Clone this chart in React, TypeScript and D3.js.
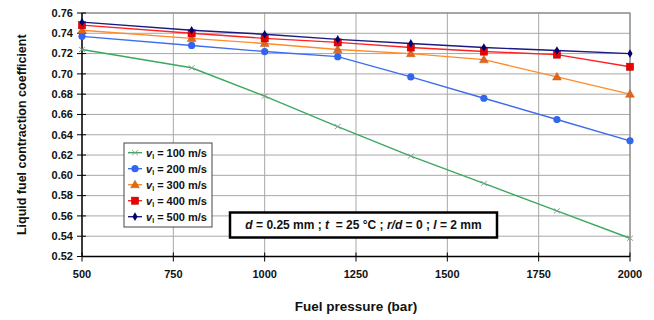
import React from "react";
import * as d3 from "d3";

const pressures = [500, 800, 1000, 1200, 1400, 1600, 1800, 2000];
const v100 = [0.724, 0.706, 0.678, 0.648, 0.619, 0.592, 0.565, 0.538];
const v200 = [0.737, 0.728, 0.722, 0.717, 0.697, 0.676, 0.655, 0.634];
const v300 = [0.743, 0.735, 0.730, 0.724, 0.720, 0.714, 0.697, 0.680];
const v400 = [0.748, 0.740, 0.735, 0.731, 0.726, 0.722, 0.719, 0.707];
const v500 = [0.751, 0.743, 0.739, 0.734, 0.730, 0.726, 0.723, 0.720];
const seriesLabels = ["100", "200", "300", "400", "500"];
const xTicks = [500, 750, 1000, 1250, 1500, 1750, 2000];
const yTicks = [0.52, 0.54, 0.56, 0.58, 0.6, 0.62, 0.64, 0.66, 0.68, 0.7, 0.72, 0.74, 0.76];

const W = 654;
const H = 320;
const L = 82, R = 630, T = 13, B = 256.5;
const FONT = "'Liberation Sans', Arial, sans-serif";

const series = [
  { key: "100", values: v100, line: "#3aa860", marker: "x", mcolor: "#8a9a90" },
  { key: "200", values: v200, line: "#3d6cf0", marker: "circle", mcolor: "#3366ee" },
  { key: "300", values: v300, line: "#ff8c2a", marker: "triangle", mcolor: "#e0661a" },
  { key: "400", values: v400, line: "#ff2020", marker: "square", mcolor: "#ee0000" },
  { key: "500", values: v500, line: "#1a1a80", marker: "diamond", mcolor: "#000070" },
];

function Marker({ type, x, y, color }: { type: string; x: number; y: number; color: string }) {
  if (type === "circle") return <circle cx={x} cy={y} r={3.6} fill={color} />;
  if (type === "square") return <rect x={x - 3.6} y={y - 3.6} width={7.2} height={7.2} fill={color} stroke="#aa0000" strokeWidth={0.5} />;
  if (type === "triangle") {
    const p = d3.symbol(d3.symbolTriangle, 34)();
    return <path d={p || ""} transform={`translate(${x},${y + 0.6})`} fill={color} stroke="#b05010" strokeWidth={0.4} />;
  }
  if (type === "diamond") {
    const p = d3.symbol(d3.symbolDiamond, 22)();
    return <path d={p || ""} transform={`translate(${x},${y})`} fill={color} />;
  }
  return (
    <g stroke={color} strokeWidth={0.9}>
      <line x1={x - 3} y1={y - 2.5} x2={x + 3} y2={y + 2.5} />
      <line x1={x - 3} y1={y + 2.5} x2={x + 3} y2={y - 2.5} />
    </g>
  );
}

export default function App() {
  const x = d3.scaleLinear().domain([500, 2000]).range([L, R]);
  const y = d3.scaleLinear().domain([0.52, 0.76]).range([B, T]);
  const line = d3
    .line<number>()
    .x((_, i) => x(pressures[i]))
    .y((d) => y(d));

  return (
    <svg width={W} height={H} style={{ position: "absolute", left: 0, top: 0, background: "#fff" }} fontFamily={FONT}>
      {yTicks.map((t) => (
        <line key={"gy" + t} x1={L} x2={R} y1={y(t)} y2={y(t)} stroke="#a8a8a8" strokeWidth={1} />
      ))}
      {xTicks.map((t) => (
        <line key={"gx" + t} x1={x(t)} x2={x(t)} y1={T} y2={B} stroke="#a8a8a8" strokeWidth={1} />
      ))}
      <rect x={L} y={T} width={R - L} height={B - T} fill="none" stroke="#7a7a7a" strokeWidth={1} />
      <line x1={L} x2={L} y1={T} y2={B} stroke="#000" strokeWidth={1.3} />
      <line x1={L} x2={R} y1={B} y2={B} stroke="#000" strokeWidth={1.3} />
      {yTicks.map((t) => (
        <g key={"ty" + t}>
          <line x1={L - 5} x2={L + 4} y1={y(t)} y2={y(t)} stroke="#000" strokeWidth={1} />
          <text x={73} y={y(t)} dy="0.35em" textAnchor="end" fontSize={11} fontWeight="bold" fill="#111">
            {d3.format(".2f")(t)}
          </text>
        </g>
      ))}
      {xTicks.map((t) => (
        <g key={"tx" + t}>
          <line x1={x(t)} x2={x(t)} y1={B - 4} y2={B + 5} stroke="#000" strokeWidth={1} />
          <text x={x(t)} y={278} textAnchor="middle" fontSize={11} fontWeight="bold" fill="#111">
            {t}
          </text>
        </g>
      ))}
      {series.map((s) => (
        <g key={s.key}>
          <path d={line(s.values) || ""} fill="none" stroke={s.line} strokeWidth={1.4} />
          {s.values.map((v, i) => (
            <Marker key={i} type={s.marker} x={x(pressures[i])} y={y(v)} color={s.mcolor} />
          ))}
        </g>
      ))}
      <rect x={124} y={143} width={88} height={84} fill="#fff" stroke="#444" strokeWidth={1} />
      {series.map((s, i) => {
        const cy = 152.7 + i * 16;
        return (
          <g key={"lg" + s.key}>
            <line x1={128} x2={142} y1={cy} y2={cy} stroke={s.line} strokeWidth={1.4} />
            <Marker type={s.marker} x={135} y={cy} color={s.mcolor} />
            <text x={146} y={cy} dy="0.35em" fontSize={11} fontWeight="bold" fill="#111">
              <tspan fontStyle="italic">v</tspan>
              <tspan fontSize={7} dy={2.5}>l</tspan>
              <tspan dy={-2.5}>{` = ${seriesLabels[i]} m/s`}</tspan>
            </text>
          </g>
        );
      })}
      <rect x={230} y={212.5} width={267} height={25} fill="#fff" stroke="#000" strokeWidth={2.5} />
      <text x={363.5} y={225} dy="0.35em" textAnchor="middle" fontSize={12} fontWeight="bold" fill="#111" style={{ whiteSpace: "pre" }}>
        <tspan fontStyle="italic">d</tspan>
        <tspan>{" = 0.25 mm ; "}</tspan>
        <tspan fontStyle="italic">t</tspan>
        <tspan>{"  = 25 °C ; "}</tspan>
        <tspan fontStyle="italic">r/d</tspan>
        <tspan>{" = 0 ; "}</tspan>
        <tspan fontStyle="italic">l</tspan>
        <tspan>{" = 2 mm"}</tspan>
      </text>
      <text x={356} y={311} textAnchor="middle" fontSize={13.5} fontWeight="bold" fill="#111">
        Fuel pressure (bar)
      </text>
      <text
        transform={`translate(22,${(T + B) / 2}) rotate(-90)`}
        textAnchor="middle"
        dy="0.35em"
        fontSize={12.5}
        fontWeight="bold"
        fill="#111"
      >
        Liquid fuel contraction coefficient
      </text>
    </svg>
  );
}
